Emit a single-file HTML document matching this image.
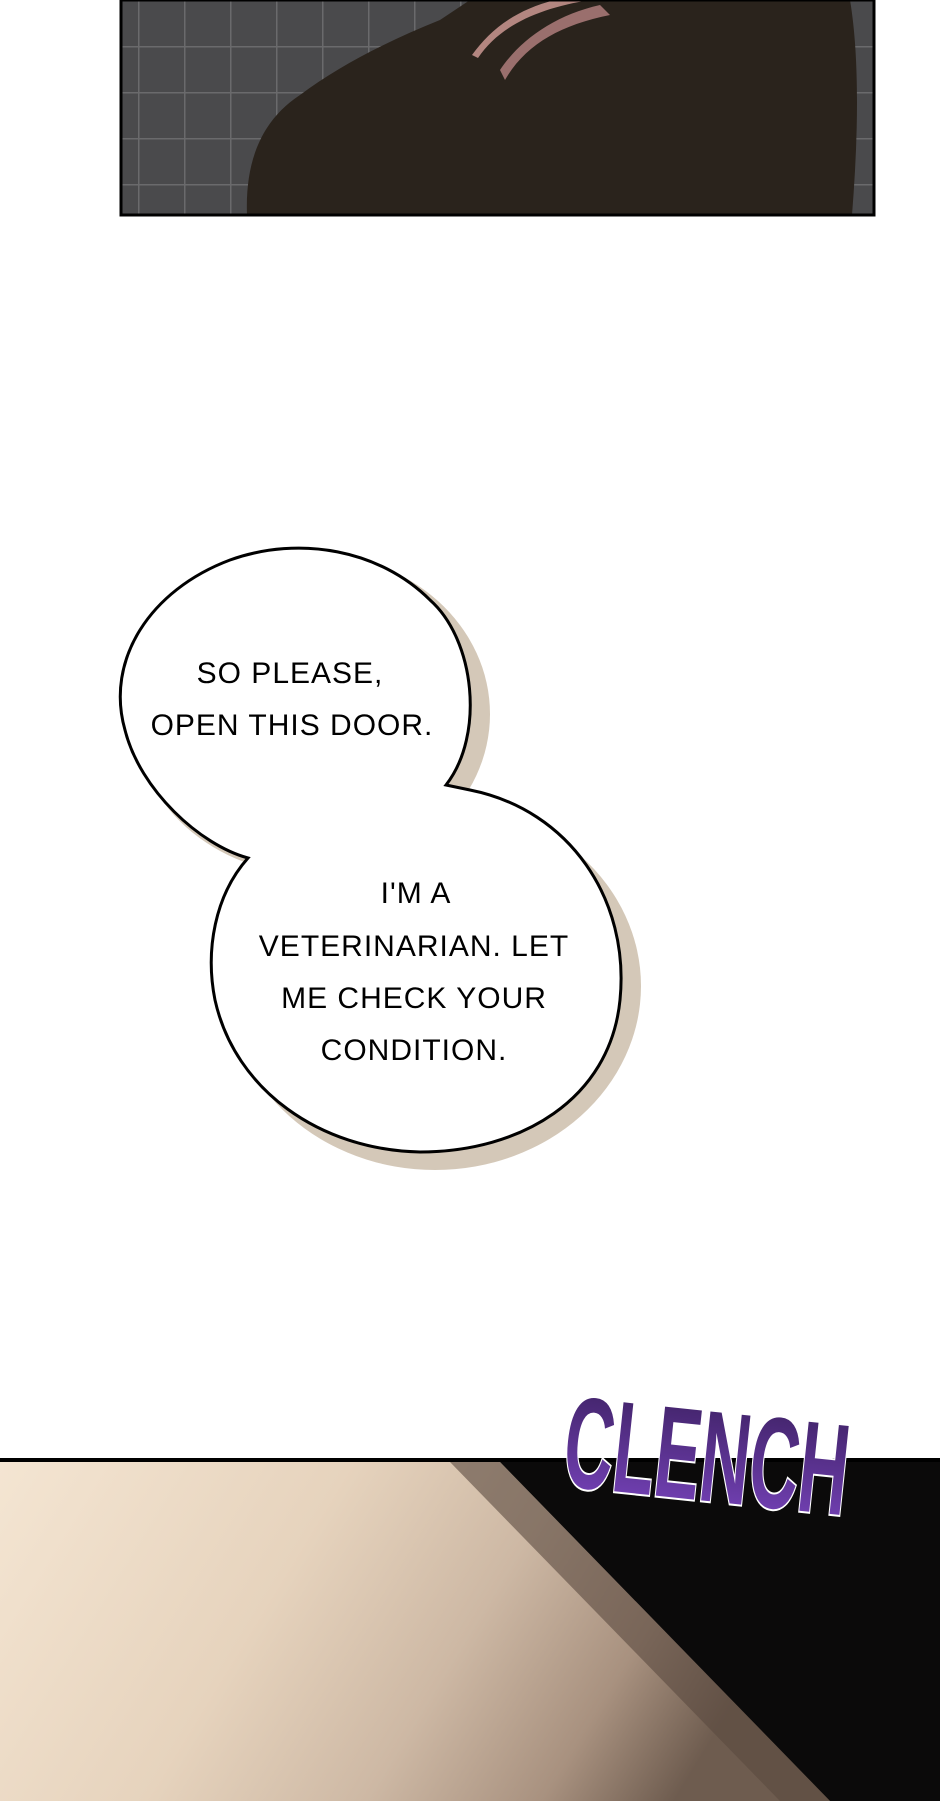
<!DOCTYPE html>
<html><head><meta charset="utf-8"><style>
html,body{margin:0;padding:0;background:#fff;}
body{width:940px;height:1801px;position:relative;overflow:hidden;}
svg{position:absolute;left:0;top:0;}
</style></head><body>
<svg width="940" height="1801" viewBox="0 0 940 1801">
<defs>
<pattern id="grid" width="46" height="46" patternUnits="userSpaceOnUse">
<rect width="46" height="46" fill="#4a4a4c"/>
<path d="M0 0H46M0 0V46" stroke="#6a6a6c" stroke-width="3"/>
</pattern>
<linearGradient id="beige" x1="0" y1="0" x2="1" y2="0.25">
<stop offset="0" stop-color="#f4e5d2"/>
<stop offset="0.4" stop-color="#e6d3bd"/>
<stop offset="0.65" stop-color="#cdb8a4"/>
<stop offset="0.85" stop-color="#a8917f"/>
<stop offset="1" stop-color="#6e5c4f"/>
</linearGradient>
<linearGradient id="purp" x1="0" y1="0" x2="0" y2="1">
<stop offset="0" stop-color="#3a1f5e"/>
<stop offset="1" stop-color="#7a45c0"/>
</linearGradient>
</defs>
<!-- top panel -->
<rect x="121" y="0" width="753" height="215" fill="url(#grid)"/>
<path d="M247 215 C245 160 262 120 300 95 C340 65 390 40 440 20 L470 0 L850 0 C860 60 858 140 852 215 Z" fill="#2a231c"/>
<path d="M478 58 C500 25 540 8 590 0 L555 0 C515 10 490 30 472 55 Z" fill="#b38680"/>
<path d="M505 80 C525 45 560 25 610 15 L600 5 C555 15 520 40 500 70 Z" fill="#9a6f6d"/>
<rect x="121" y="0" width="753" height="215" fill="none" stroke="#000" stroke-width="3"/>
<!-- bubble shadows -->
<ellipse cx="312" cy="714" rx="178" ry="160" fill="#d4c8b8"/>
<ellipse cx="435" cy="986" rx="206" ry="184" fill="#d4c8b8"/>
<!-- bubbles -->
<g fill="#fff" stroke="#000" stroke-width="3">
<path d="M446 785 C485 735 475 640 430 600 C380 550 300 535 230 560 C150 590 105 660 125 730 C140 790 200 845 248 858 C215 895 205 950 215 1000 C235 1090 320 1150 420 1152 C520 1152 610 1100 620 1000 C630 900 570 810 470 790 Z"/>
</g>
<g fill="#000" font-family="'Liberation Sans',sans-serif" font-size="30" text-anchor="middle" letter-spacing="1">
<text x="290" y="683">SO PLEASE,</text>
<text x="292" y="735">OPEN THIS DOOR.</text>
<text x="416" y="903">I'M A</text>
<text x="414" y="956">VETERINARIAN. LET</text>
<text x="414" y="1008">ME CHECK YOUR</text>
<text x="414" y="1060">CONDITION.</text>
</g>
<!-- bottom panel -->
<rect x="0" y="1459" width="940" height="342" fill="#0b0a0a"/>
<path d="M0 1462 L500 1462 L830 1801 L0 1801 Z" fill="url(#beige)"/>
<path d="M450 1462 L500 1462 L830 1801 L780 1801 Z" fill="#5a4a3f" opacity="0.6"/>
<line x1="0" y1="1460" x2="940" y2="1460" stroke="#000" stroke-width="4"/>
<!-- CLENCH -->
<g font-family="'Liberation Sans',sans-serif" font-weight="bold" font-size="130" fill="url(#purp)" stroke="#fff" stroke-width="4" paint-order="stroke">
<text x="565" y="1500" transform="rotate(6 700 1450)" textLength="285" lengthAdjust="spacingAndGlyphs">CLENCH</text>
</g>
</svg>
</body></html>
